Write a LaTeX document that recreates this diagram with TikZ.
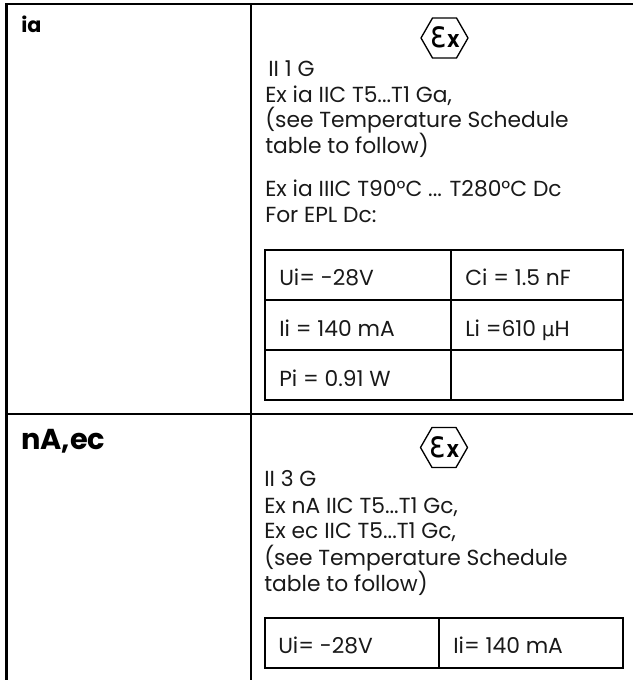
\documentclass[tikz,border=0pt]{standalone}
\usepackage{fontspec}
\setmainfont{Poppins}
\newfontfamily\exfont{DejaVu Sans}
\tikzset{
  rule/.style={draw=black,line width=1.6pt},
  txt/.style={anchor=base west,inner sep=0pt,font=\fontsize{16.35pt}{19pt}\selectfont,text=black!90},
  headsmall/.style={anchor=base west,inner sep=0pt,font=\fontsize{15.5pt}{18pt}\selectfont\bfseries},
  headbig/.style={anchor=base west,inner sep=0pt,font=\fontsize{21.6pt}{26pt}\selectfont\bfseries},
  hexa/.style={draw=black,line width=1pt,line join=round},
  exmark/.style={anchor=base,inner sep=0pt,xscale=0.82,font=\exfont}
}
\newcommand{\exsign}{{\fontsize{28pt}{30pt}\selectfont ε}{\fontsize{17.8pt}{20pt}\selectfont\bfseries x}}
\begin{document}
\begin{tikzpicture}[x=0.75pt,y=-0.75pt]
\useasboundingbox (0,0) rectangle (633,680);
% outer table
\draw[rule] (6.5,680) -- (6.5,4) -- (633,4);
\draw[rule] (251,4) -- (251,680);
\draw[rule] (6.5,414) -- (633,414);
% row labels
\node[headsmall] (ia) at (21,33) {ia};
\node[headbig] (na) at (21,449) {nA,ec};
% upper Ex mark
\draw[hexa] (421,38) -- (432.5,18) -- (456.5,18) -- (468,38) -- (456.5,58) -- (432.5,58) -- cycle;
\node[exmark] (ex1) at (445,48) {\exsign};
% upper text
\node[txt] (a1) at (268,77) {II 1 G};
\node[txt] (a2) at (265,103) {Ex ia IIC T5...T1 Ga,};
\node[txt] (a3) at (265,128) {(see Temperature Schedule};
\node[txt] (a4) at (265,154) {table to follow)};
\node[txt] (a5) at (265,197) {Ex ia IIIC T90°C ... T280°C Dc};
\node[txt] (a6) at (265,223) {For EPL Dc:};
% upper inner table
\draw[rule] (265,250) rectangle (623,400);
\draw[rule] (265,300) -- (623,300);
\draw[rule] (265,350) -- (623,350);
\draw[rule] (451,250) -- (451,400);
\node[txt] (b1) at (279,286) {Ui= -28V};
\node[txt] (b2) at (465,286) {Ci = 1.5 nF};
\node[txt] (b3) at (279,336) {Ii = 140 mA};
\node[txt] (b4) at (465,336) {Li =610 {\exfont\fontsize{15pt}{18pt}\selectfont μ}H};
\node[txt] (b5) at (279,386) {Pi = 0.91 W};
% lower Ex mark
\draw[hexa] (420.5,447.5) -- (432,427.5) -- (456,427.5) -- (467.5,447.5) -- (456,467.5) -- (432,467.5) -- cycle;
\node[exmark] (ex2) at (444.5,457.5) {\exsign};
% lower text
\node[txt] (c1) at (264,486) {II 3 G};
\node[txt] (c2) at (264,513) {Ex nA IIC T5...T1 Gc,};
\node[txt] (c3) at (264,538) {Ex ec IIC T5...T1 Gc,};
\node[txt] (c4) at (264,565) {(see Temperature Schedule};
\node[txt] (c5) at (264,591) {table to follow)};
% lower inner table
\draw[rule] (265,618) rectangle (623,668);
\draw[rule] (439,618) -- (439,668);
\node[txt] (d1) at (278,653) {Ui= -28V};
\node[txt] (d2) at (453,653) {Ii= 140 mA};
\end{tikzpicture}
\end{document}
